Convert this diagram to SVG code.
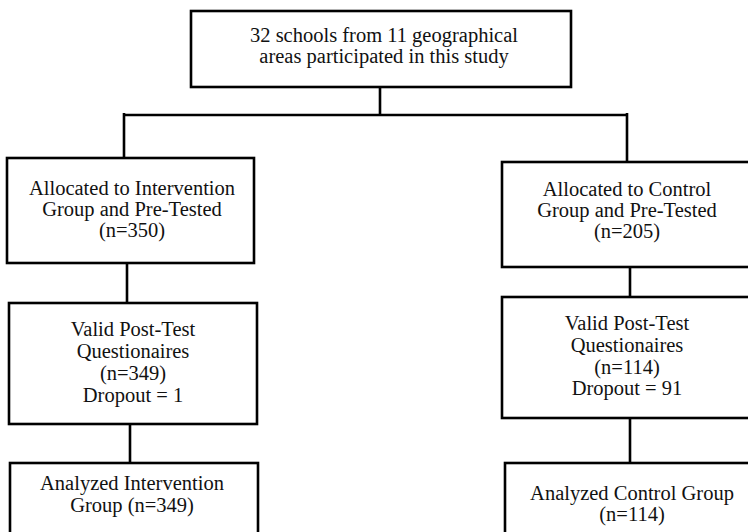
<svg xmlns="http://www.w3.org/2000/svg" width="748" height="532" viewBox="0 0 748 532">
<style>
.box{fill:#fff;stroke:#000;stroke-width:2.6}
.ln{fill:none;stroke:#000;stroke-width:2.6}
text{font-family:"Liberation Serif","Times New Roman",serif;font-size:20.5px;fill:#111;text-anchor:middle}
</style>
<rect width="748" height="532" fill="#fff"/>
<g id="connectors">
<path class="ln" d="M380 87V115M123 115H628M124 113V158M627 113V162"/>
<path class="ln" d="M127 263V303M130 424V463"/>
<path class="ln" d="M630 267V297M630 418V463"/>
</g>
<g id="top">
<rect class="box" x="191" y="11" width="380" height="76"/>
<text x="384" y="42">32 schools from 11 geographical</text>
<text x="384" y="63">areas participated in this study</text>
</g>
<g id="int-alloc">
<rect class="box" x="7" y="158" width="247" height="105"/>
<text x="132" y="195">Allocated to Intervention</text>
<text x="132" y="216">Group and Pre-Tested</text>
<text x="132" y="237">(n=350)</text>
</g>
<g id="int-post">
<rect class="box" x="9" y="303" width="248" height="121"/>
<text x="133" y="336">Valid Post-Test</text>
<text x="133" y="358">Questionaires</text>
<text x="133" y="380">(n=349)</text>
<text x="133" y="402">Dropout = 1</text>
</g>
<g id="int-analyzed">
<rect class="box" x="10" y="463" width="248" height="80"/>
<text x="132" y="490">Analyzed Intervention</text>
<text x="132" y="512">Group (n=349)</text>
</g>
<g id="ctl-alloc">
<rect class="box" x="502" y="162" width="260" height="105"/>
<text x="627" y="196">Allocated to Control</text>
<text x="627" y="217">Group and Pre-Tested</text>
<text x="627" y="238">(n=205)</text>
</g>
<g id="ctl-post">
<rect class="box" x="502" y="297" width="260" height="121"/>
<text x="627" y="330">Valid Post-Test</text>
<text x="627" y="352">Questionaires</text>
<text x="627" y="374">(n=114)</text>
<text x="627" y="395">Dropout = 91</text>
</g>
<g id="ctl-analyzed">
<rect class="box" x="505" y="463" width="257" height="80"/>
<text x="632" y="500">Analyzed Control Group</text>
<text x="632" y="521">(n=114)</text>
</g>
</svg>
